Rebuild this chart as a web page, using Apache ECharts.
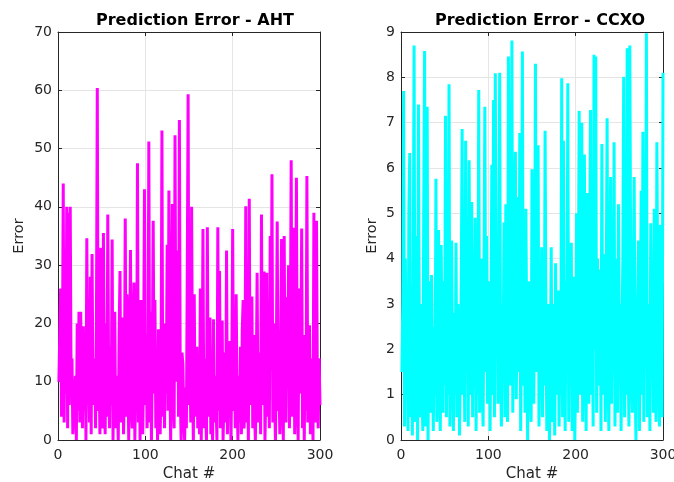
<!DOCTYPE html>
<html>
<head>
<meta charset="utf-8">
<script src="https://cdn.jsdelivr.net/npm/echarts@6/dist/echarts.min.js"></script>
<style>
  html, body { margin: 0; padding: 0; background: #fff; }
  #chart { width: 674px; height: 482px; }
</style>
</head>
<body>
<div id="chart"></div>
<script>
// prediction error per chat (chat # = index + 1)
const ahtError = [
  10, 18, 26, 4, 12, 44, 3, 20, 8, 40,
  2, 39, 6, 40, 10, 14, 1, 4, 8, 11,
  0, 20, 5, 22, 3, 22, 9, 2, 19.5, 5,
  18, 0, 34.6, 8, 12, 3, 28, 1, 31.9, 10,
  6, 14, 2, 20, 60.4, 5, 12, 1, 33, 8,
  2, 35.5, 12, 1, 20, 4, 38.7, 10, 2, 16,
  6, 34.4, 0, 14, 22, 2, 11, 7, 0, 18,
  29, 3, 10, 21, 1, 8, 38, 4, 25, 12,
  0, 14, 32.6, 6, 2, 19, 27, 0, 10, 5,
  47.5, 3, 16, 0, 24, 8, 1, 12, 43, 6,
  18, 2, 10, 51.2, 3, 22, 0, 14, 37.6, 8,
  24, 2, 12, 0, 19, 6, 1, 10, 53.1, 4,
  14, 2, 20, 8, 33.5, 5, 42.8, 12, 0, 22,
  40.5, 6, 2, 52.3, 10, 18, 32.5, 4, 54.9, 8,
  0, 15, 13, 3, 0, 9, 2, 28, 59.3, 6,
  16, 3, 40, 10, 0, 25, 4, 12, 16, 2,
  8, 1, 26, 0, 10, 36.2, 2, 14, 5, 0,
  36.5, 4, 18, 21, 1, 9, 0, 20.7, 3, 11,
  6, 0, 36.5, 5, 29, 2, 12, 20.5, 0, 7,
  15, 3, 32.5, 1, 10, 4, 17, 0, 12, 36.2,
  5, 14, 2, 25, 8, 0, 11, 3, 16, 1,
  19, 24, 2, 8, 40.1, 3, 12, 0, 41.4, 6,
  14, 24.6, 2, 18, 5, 0, 10, 28.7, 3, 8,
  15, 1, 38.7, 6, 12, 28.9, 0, 9, 28.7, 4,
  18, 2, 35, 12, 45.6, 3, 20, 7, 0, 14,
  37.5, 5, 10, 1, 18, 34.5, 6, 0, 35, 9,
  3, 24.5, 12, 30, 2, 16, 48, 4, 10, 36.4,
  1, 14, 45, 6, 0, 26, 8, 11, 36.3, 2,
  12, 0, 18, 5, 45.3, 3, 9, 19.7, 1, 14,
  6, 0, 39, 10, 3, 37.6, 8, 2, 14, 6
];
const ccxoError = [
  1.5, 3, 7.7, 0.3, 4, 1, 2.5, 0.2, 5, 6.33,
  0.5, 2, 0.1, 3.5, 8.7, 0.4, 1.2, 4.5, 0, 7.4,
  2, 0.5, 3, 1, 0.2, 5, 8.58, 0.3, 2.5, 7.35,
  0, 3.5, 1.5, 0.6, 3.64, 1.8, 0.2, 2.5, 1, 5.76,
  0.4, 3, 4.63, 1, 0.2, 4.3, 2, 0.6, 3.5, 1.2,
  7.15, 0.5, 2.5, 1, 7.85, 0.3, 3, 4.4, 1.5, 0.2,
  2.8, 1, 4.35, 0.5, 3, 2.6, 0.1, 1.8, 3.5, 6.86,
  1, 2.5, 0.4, 6.6, 1.5, 3.8, 0.3, 6.17, 2, 1,
  5.25, 0.5, 2.5, 1.8, 4.9, 0.2, 3, 1, 7.72, 0.6,
  2.5, 4, 1.2, 0.3, 3.5, 7.35, 1.5, 4.5, 0.8, 2,
  3.5, 0.2, 2.5, 6.07, 1, 7.5, 0.5, 8.09, 2.2, 3.8,
  0.8, 4.2, 8.1, 1.5, 0.3, 3, 2, 4.8, 0.5, 5.2,
  2.8, 0.4, 8.46, 3.5, 1.2, 4.5, 8.81, 0.6, 2.5, 5,
  6.36, 0.9, 3.2, 5.36, 1.5, 6.77, 0.2, 2.8, 8.57, 1.2,
  4, 0.6, 5.1, 2.2, 0, 3.5, 3.3, 1, 0.4, 5.97,
  2.5, 0.8, 3, 8.3, 1.5, 4, 6.5, 0.3, 2.2, 1,
  4.25, 0.5, 3.5, 1.2, 6.82, 2.5, 0.2, 3, 2.3, 0,
  1.5, 4.25, 0.4, 3, 2.5, 0.1, 3.9, 1, 2.2, 3.3,
  0.3, 2.5, 1, 7.98, 0.5, 6.6, 2, 0.2, 3.5, 1.5,
  7.87, 0.4, 3, 2.2, 4.35, 0.2, 2.5, 3.6, 0, 1.5,
  5, 0.6, 3, 7.26, 1, 2.5, 7, 0.4, 4, 6.3,
  1.5, 0.2, 5.45, 2.5, 0.8, 4, 7.28, 1, 3, 0.3,
  8.5, 2, 8.46, 0.6, 4, 1.2, 3, 3.76, 0.2, 6.53,
  1, 2.5, 4.1, 0.4, 3.5, 7.1, 1.5, 0.2, 2.8, 5.8,
  0.8, 3, 1.5, 6.57, 0.3, 2.5, 4, 0.6, 5.2, 1.5,
  3, 0.2, 2.2, 4, 8.01, 0.5, 3, 1, 8.64, 2,
  0.3, 8.7, 4, 1.2, 0.6, 3.5, 5.8, 1.5, 0, 2.5,
  3, 4.4, 0.2, 2, 5.5, 1, 6.8, 0.4, 3.5, 2,
  8.97, 0.5, 2.2, 3, 0.2, 4.78, 1.5, 3.2, 0.6, 5.1,
  2, 0.4, 6.57, 3, 1.2, 0.3, 4.75, 2.5, 0.5, 8.1
];
const titles = ["Prediction Error - AHT", "Prediction Error - CCXO"];
const xTicks = [0, 100, 200, 300];
const ahtYMax = 70, ahtYStep = 10;
const ccxoYMax = 9, ccxoYStep = 1;

const font = "'DejaVu Sans', sans-serif";
const ink = "#262626";
const gridGray = "#e5e5e5";

function toPoints(arr) {
  return arr.map((v, i) => [i + 1, v]);
}

function xAxes(gridIndex) {
  const base = {
    type: "value",
    gridIndex,
    min: xTicks[0],
    max: xTicks[xTicks.length - 1],
    interval: xTicks[1] - xTicks[0],
    axisLine: { show: true, onZero: false, lineStyle: { color: ink, width: 1 } },
    axisTick: { show: true, inside: true, length: 4, lineStyle: { color: ink } }
  };
  return [
    Object.assign({}, base, {
      position: "bottom",
      name: "Chat #",
      nameLocation: "middle",
      nameGap: 27,
      nameTextStyle: { color: ink, fontSize: 15, fontFamily: font },
      axisLabel: { color: ink, fontSize: 14, fontFamily: font, margin: 8 },
      splitLine: { show: true, lineStyle: { color: gridGray, width: 1 } }
    }),
    Object.assign({}, base, {
      position: "top",
      axisLabel: { show: false },
      splitLine: { show: false }
    })
  ];
}

function yAxes(gridIndex, max, step, nameGap) {
  const base = {
    type: "value",
    gridIndex,
    min: 0,
    max,
    interval: step,
    axisLine: { show: true, onZero: false, lineStyle: { color: ink, width: 1 } },
    axisTick: { show: true, inside: true, length: 4, lineStyle: { color: ink } }
  };
  return [
    Object.assign({}, base, {
      position: "left",
      name: "Error",
      nameLocation: "middle",
      nameGap,
      nameTextStyle: { color: ink, fontSize: 14.5, fontFamily: font },
      axisLabel: { color: ink, fontSize: 14, fontFamily: font, margin: 6 },
      splitLine: { show: true, lineStyle: { color: gridGray, width: 1 } }
    }),
    Object.assign({}, base, {
      position: "right",
      axisLabel: { show: false },
      splitLine: { show: false }
    })
  ];
}

const chart = echarts.init(document.getElementById("chart"), null, { renderer: "canvas" });
chart.setOption({
  animation: false,
  backgroundColor: "#fff",
  title: [
    { text: titles[0], left: 190, top: 8, textAlign: "center",
      textStyle: { fontSize: 16, fontWeight: "bold", color: "#000", fontFamily: font } },
    { text: titles[1], left: 535, top: 8, textAlign: "center",
      textStyle: { fontSize: 16, fontWeight: "bold", color: "#000", fontFamily: font } }
  ],
  grid: [
    { left: 58, right: 354, top: 32, bottom: 42, outerBoundsMode: "none" },
    { left: 401, right: 11, top: 32, bottom: 42, outerBoundsMode: "none" }
  ],
  xAxis: [].concat(xAxes(0), xAxes(1)),
  yAxis: [].concat(yAxes(0, ahtYMax, ahtYStep, 31), yAxes(1, ccxoYMax, ccxoYStep, 21)),
  series: [
    {
      type: "line", xAxisIndex: 0, yAxisIndex: 0,
      data: toPoints(ahtError),
      showSymbol: false, clip: true,
      lineStyle: { color: "#ff00ff", width: 3 }
    },
    {
      type: "line", xAxisIndex: 2, yAxisIndex: 2,
      data: toPoints(ccxoError),
      showSymbol: false, clip: true,
      lineStyle: { color: "#00ffff", width: 3 }
    }
  ]
});
</script>
</body>
</html>
